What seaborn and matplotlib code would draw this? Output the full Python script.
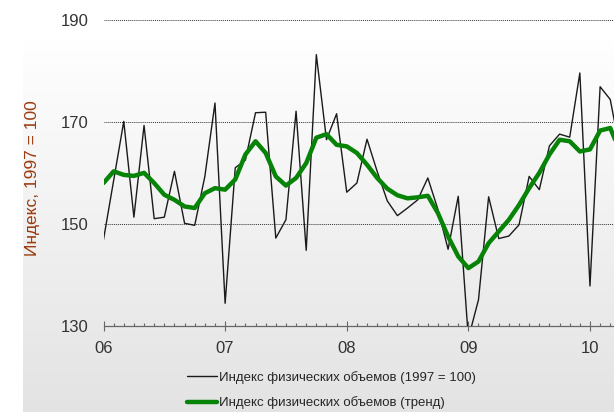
import numpy as np
import pandas as pd
import matplotlib
matplotlib.use("Agg")
import matplotlib.pyplot as plt
from matplotlib.colors import LinearSegmentedColormap
from matplotlib.ticker import FixedLocator, MultipleLocator
import seaborn as sns

# ── Data (monthly, Jan 2006 = month 0) ─────────────────────────────────────────
month = np.arange(52)
index_raw = [
    146.9, 158.5, 170.1, 151.3, 169.3, 151.0, 151.3, 160.3, 150.1, 149.7, 159.3, 173.7,
    134.4, 161.0, 162.5, 171.8, 171.9, 147.2, 150.8, 172.1, 144.8, 183.2, 166.5, 171.6,
    156.2, 158.0, 166.6, 160.3, 154.5, 151.6, 153.1, 154.7, 159.0, 152.8, 145.0, 155.4,
    127.5, 135.1, 155.3, 147.1, 147.6, 149.8, 159.3, 156.7, 165.3, 167.6, 167.0, 179.6,
    137.8, 176.9, 174.4, 164.0,
]
index_trend = [
    158.0, 160.3, 159.6, 159.4, 160.0, 158.0, 155.7, 154.7, 153.4, 153.1, 156.0, 157.0,
    156.7, 158.7, 163.6, 166.2, 163.9, 159.3, 157.5, 159.0, 161.9, 166.9, 167.6, 165.5,
    165.2, 163.9, 161.6, 159.0, 156.9, 155.6, 155.0, 155.2, 155.5, 152.1, 147.5, 143.6,
    141.3, 142.6, 146.2, 148.5, 150.8, 153.7, 157.0, 160.0, 163.6, 166.5, 166.2, 164.2,
    164.6, 168.3, 168.8, 164.0,
]
year_ticks = [0, 12, 24, 36, 48]
year_labels = ["06", "07", "08", "09", "10"]
y_ticks = [130, 150, 170, 190]

LBL_RAW = "Индекс физических объемов (1997 = 100)"
LBL_TREND = "Индекс физических объемов (тренд)"

df = pd.DataFrame({"month": month, "raw": index_raw, "trend": index_trend})

# ── Style ──────────────────────────────────────────────────────────────────────
sns.set_style("white")
plt.rcParams["font.family"] = ["Liberation Sans", "DejaVu Sans"]

COL_RAW = "#1a1a1a"
COL_TREND = "#078407"
COL_LABEL = "#9C3A0E"
COL_AXIS = "#666666"

W, H = 614, 412
fig = plt.figure(figsize=(W / 100, H / 100), dpi=100, facecolor="white")

# gradient backdrop panel
bg = fig.add_axes([23 / W, 0, 1 - 23 / W, 1 - 37 / H], zorder=-5)
grad = np.linspace(0, 1, 256).reshape(-1, 1)
cmap_bg = LinearSegmentedColormap.from_list("bg", ["#ffffff", "#e3e3e3"])
bg.imshow(grad, aspect="auto", cmap=cmap_bg, extent=(0, 1, 1, 0))
bg.axis("off")

# main axes
x0, y_top, y_bot = 103.5, 20, 325.7
ax = fig.add_axes([x0 / W, 1 - y_bot / H, 1 - x0 / W, (y_bot - y_top) / H])
ax.set_facecolor("none")

sns.lineplot(data=df, x="month", y="raw", ax=ax, color=COL_RAW, lw=1.0,
             label=LBL_RAW, zorder=3)
sns.lineplot(data=df, x="month", y="trend", ax=ax, color=COL_TREND, lw=3.2,
             label=LBL_TREND, zorder=4, solid_joinstyle="round", solid_capstyle="round")

ax.set_xlim(0, (W - x0) / 10.135)
ax.set_ylim(130, 190)

ax.xaxis.set_major_locator(FixedLocator(year_ticks))
ax.set_xticklabels(year_labels)
ax.xaxis.set_minor_locator(MultipleLocator(1))
ax.set_yticks(y_ticks)
ax.set_xlabel("")
ax.set_ylabel("Индекс, 1997 = 100", color=COL_LABEL, fontsize=12.5)
ax.yaxis.set_label_coords((40 - x0) / (W - x0), (y_bot - 178) / (y_bot - y_top))

ax.yaxis.grid(True, linestyle=(0, (1, 1)), color="#333333", lw=0.7)
ax.xaxis.grid(False)
for s in ["left", "top", "right"]:
    ax.spines[s].set_visible(False)
ax.spines["bottom"].set_color(COL_AXIS)
ax.spines["bottom"].set_linewidth(0.9)

ax.tick_params(axis="y", left=False, length=0, pad=11, labelsize=12, labelcolor="#333333")
ax.tick_params(axis="x", which="both", bottom=True)
ax.tick_params(axis="x", which="major", direction="inout", length=6.5, width=0.8,
               color=COL_AXIS, pad=8, labelsize=12, labelcolor="#333333")
ax.tick_params(axis="x", which="minor", direction="in", length=2.5, width=0.8,
               color=COL_AXIS)

ax.get_legend().remove()
handles, labels = ax.get_legend_handles_labels()
fig.legend(handles, labels, loc="center left",
           bbox_to_anchor=(187 / W, 1 - 390 / H), frameon=False,
           fontsize=9.5, handlelength=2.25, handletextpad=0.15,
           labelspacing=0.95, borderpad=0, borderaxespad=0)

fig.savefig("out.png", dpi=100, facecolor="white")
